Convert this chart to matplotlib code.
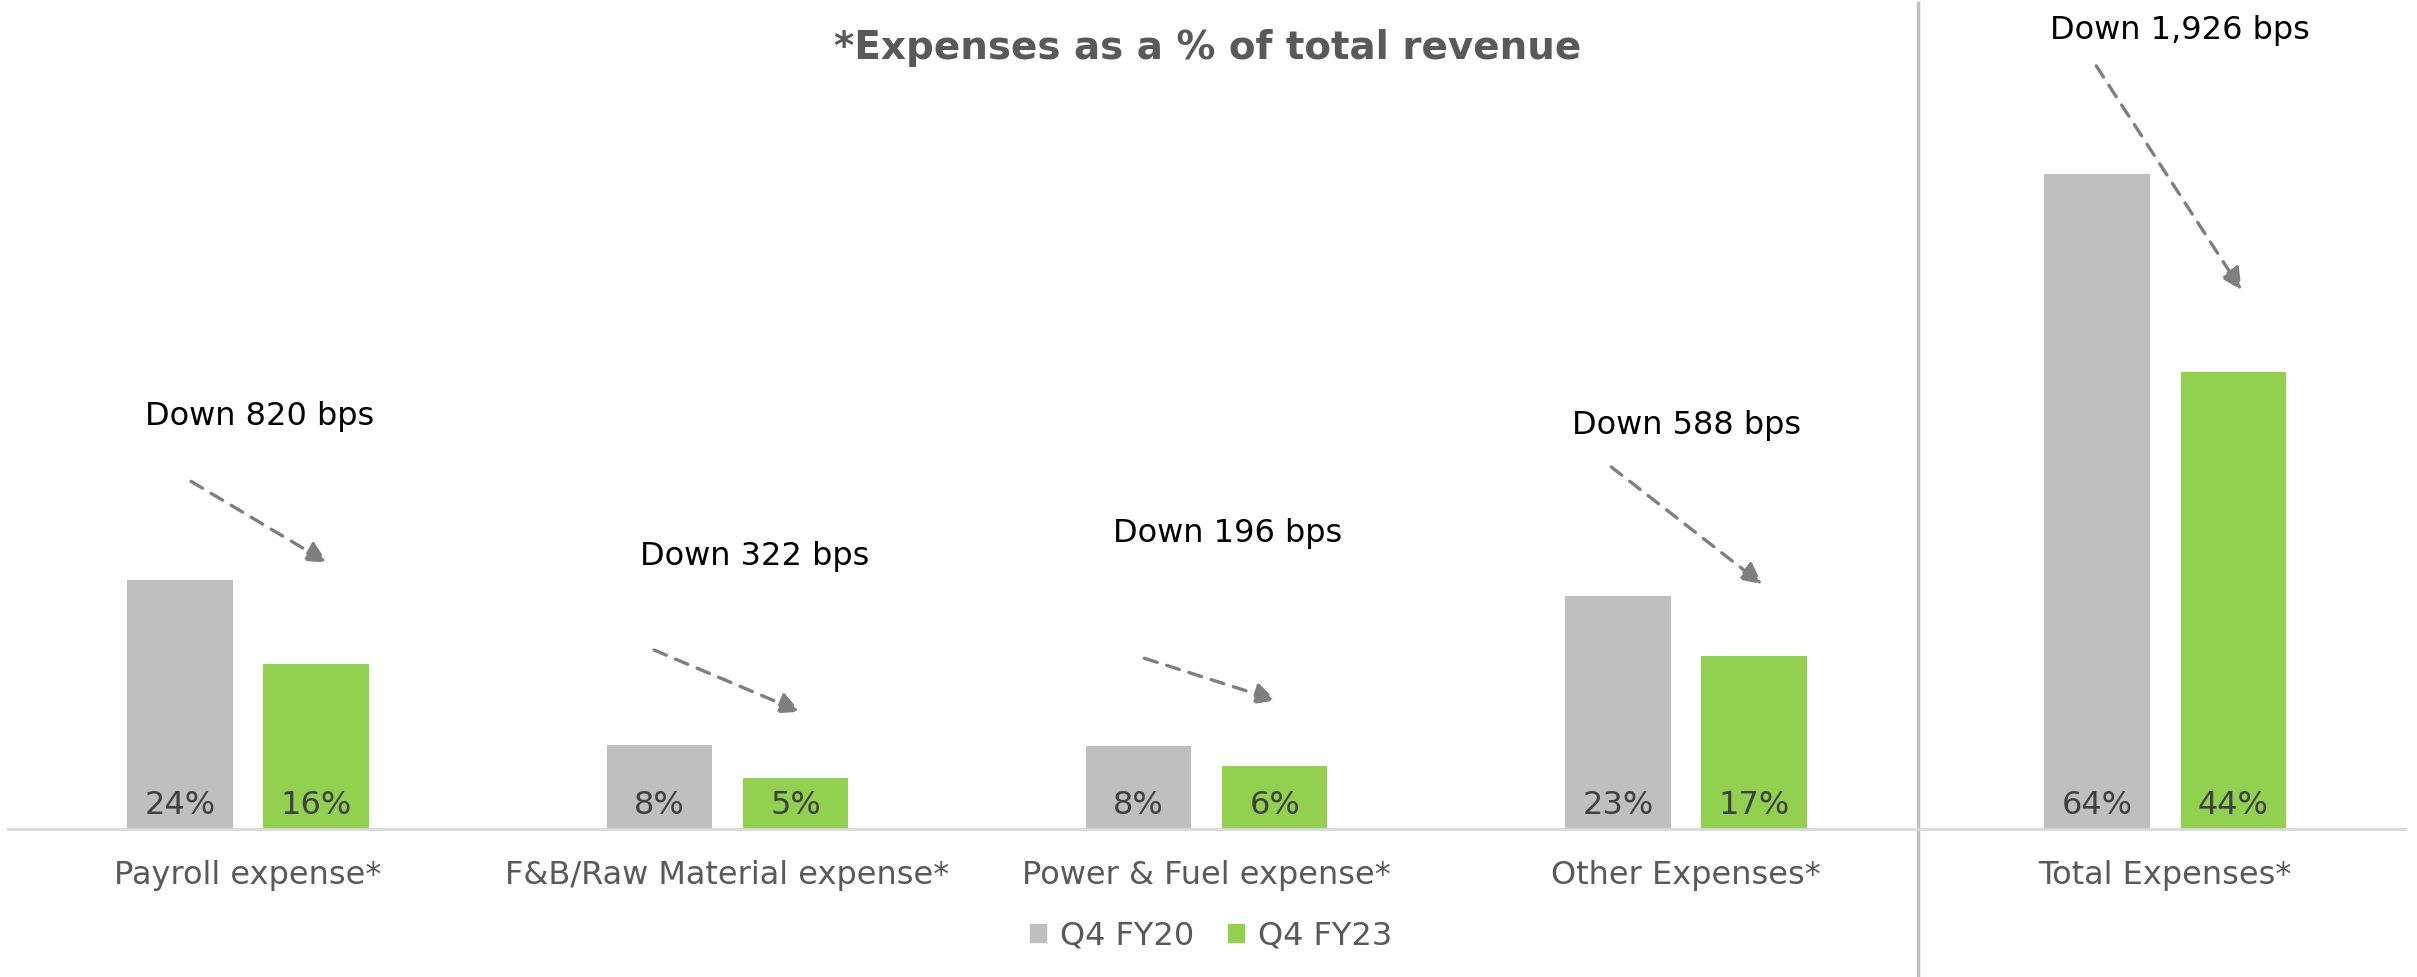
import matplotlib
matplotlib.use("Agg")
from matplotlib import pyplot as plt
from matplotlib.patches import Patch

categories = ["Payroll expense*", "F&B/Raw Material expense*", "Power & Fuel expense*",
              "Other Expenses*", "Total Expenses*"]
fy20 = [24.2, 8.2, 8.1, 22.7, 63.7]
fy23 = [16.0, 4.98, 6.14, 16.82, 44.44]
fy20_labels = ["24%", "8%", "8%", "23%", "64%"]
fy23_labels = ["16%", "5%", "6%", "17%", "44%"]
changes = ["Down 820 bps", "Down 322 bps", "Down 196 bps", "Down 588 bps", "Down 1,926 bps"]

GREY = "#bfbfbf"
GREEN = "#92d050"
TEXT = "#595959"

# hand placed callouts: (text x off, text y), (arrow start x off, y), (arrow end x off, y)
callouts = [
    ((0.023, 40.1), (-0.119, 33.8), (0.165, 25.9)),
    ((0.056, 26.5), (-0.153, 17.4), (0.152, 11.4)),
    ((0.043, 28.7), (-0.130, 16.6), (0.145, 12.5)),
    ((0.001, 39.2), (-0.156, 35.2), (0.159, 23.8)),
    ((0.031, 77.6), (-0.144, 74.2), (0.159, 52.4)),
]

fig = plt.figure(figsize=(24.17, 9.77), dpi=100)
ax = fig.add_axes([0.0035, 0.1515, 0.9915, 0.8485])

x = list(range(len(categories)))
w = 0.22
off = 0.142
ax.bar([i - off for i in x], fy20, width=w, color=GREY)
ax.bar([i + off for i in x], fy23, width=w, color=GREEN)

for i in x:
    ax.annotate(fy20_labels[i], (i - off, 0), xytext=(0, 17), textcoords="offset points",
                ha="center", va="center", fontsize=23, color="#404040")
    ax.annotate(fy23_labels[i], (i + off, 0), xytext=(0, 17), textcoords="offset points",
                ha="center", va="center", fontsize=23, color="#404040")
    (tx, ty), (sx, sy), (ex, ey) = callouts[i]
    ax.text(i + tx, ty, changes[i], ha="center", va="center", fontsize=23, color="black")
    ax.annotate("", xy=(i + ex, ey), xytext=(i + sx, sy),
                arrowprops=dict(arrowstyle="-|>", color="#7f7f7f", lw=2.4,
                                linestyle=(0, (4, 3)), mutation_scale=32,
                                shrinkA=0, shrinkB=0))

ax.set_xlim(-0.5, 4.5)
ax.set_ylim(0, 80.6)
ax.set_xticks(x)
ax.set_xticklabels(categories, fontsize=23, color=TEXT)
ax.tick_params(axis="x", length=0, pad=22)
ax.set_yticks([])
for s in ["top", "left", "right"]:
    ax.spines[s].set_visible(False)
ax.spines["bottom"].set_color("#d9d9d9")
ax.spines["bottom"].set_linewidth(2)

# divider between the group and the total
ax.axvline(3.485, ymin=-0.18, ymax=0.996, color="#bfbfbf", lw=2.5, clip_on=False)

fig.text(0.4997, 0.951, "*Expenses as a % of total revenue", ha="center", va="center",
         fontsize=28, fontweight="bold", color=TEXT)

handles = [Patch(color=GREY, label="Q4 FY20"), Patch(color=GREEN, label="Q4 FY23")]
fig.legend(handles=handles, loc="center", bbox_to_anchor=(0.501, 0.042), ncol=2,
           frameon=False, fontsize=23, labelcolor=TEXT, handlelength=0.5,
           handleheight=0.5, handletextpad=0.45, columnspacing=1.05)

fig.savefig("out.png", dpi=100)
